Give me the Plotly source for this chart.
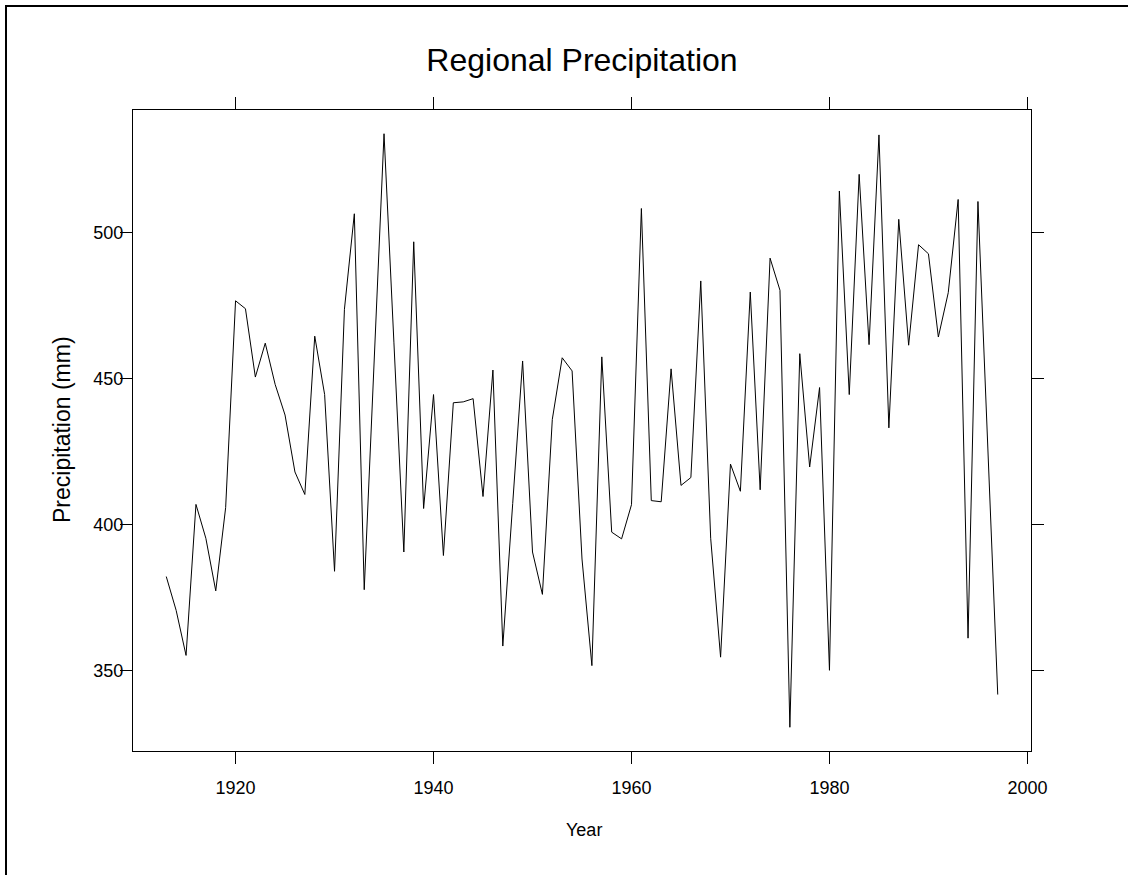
import plotly.graph_objects as go

# Annual precipitation series
years = list(range(1913, 1998))
precip_mm = [
    382.3, 370.7, 355.3, 407.0, 395.4, 377.4, 405.9, 476.7, 474.0, 450.6,
    462.2, 448.1, 437.6, 418.1, 410.4, 464.6, 444.6, 384.1, 473.8, 506.5,
    377.8, 455.9, 533.9, 462.3, 390.7, 496.9, 405.6, 444.6, 389.5, 441.8,
    442.1, 443.2, 409.7, 453.0, 358.5, 407.3, 456.1, 390.7, 376.2, 436.1,
    457.2, 452.7, 388.3, 351.8, 457.5, 397.5, 395.2, 406.9, 508.3, 408.3,
    407.9, 453.4, 413.5, 416.2, 483.5, 395.4, 354.7, 420.8, 411.5, 479.7,
    412.0, 491.3, 480.3, 330.7, 458.6, 419.8, 447.0, 350.2, 514.3, 444.6,
    520.0, 461.7, 533.5, 433.2, 504.6, 461.5, 495.9, 492.8, 464.3, 479.5,
    511.4, 361.2, 510.7, 426.3, 341.9,
]
x_ticks = [1920, 1940, 1960, 1980, 2000]
y_ticks = [350, 400, 450, 500]

W, H = 1128, 875
ML, MR, MT, MB = 133, 97, 110, 124
FONT = "Liberation Sans, Arial, Helvetica, sans-serif"

def px_to_paper_x(px):
    return (px - ML) / (W - ML - MR)

def px_to_paper_y(py):
    return (H - MB - py) / (H - MT - MB)

# Pad the data range by 4% on each side
span_x = years[-1] - years[0]
x_range = [years[0] - 0.04 * span_x, years[-1] + 0.04 * span_x]
lo, hi = min(precip_mm), max(precip_mm)
span_y = hi - lo
y_range = [lo - 0.04 * span_y, hi + 0.04 * span_y]

fig = go.Figure(
    go.Scatter(
        x=years, y=precip_mm, mode="lines",
        line=dict(color="black", width=1),
        hoverinfo="x+y",
    )
)

axis_common = dict(
    showgrid=False, zeroline=False,
    showline=True, linecolor="black", linewidth=1,
    mirror="ticks", ticks="outside", ticklen=12, tickwidth=1,
    tickcolor="black",
    tickfont=dict(family=FONT, size=18, color="black"),
)

fig.update_xaxes(range=x_range, tickvals=x_ticks, ticklabelstandoff=8, **axis_common)
fig.update_yaxes(range=y_range, tickvals=y_ticks, ticklabelstandoff=-7, **axis_common)

# Axis titles
fig.add_annotation(text="Year", xref="paper", yref="paper",
                   x=px_to_paper_x(584), y=px_to_paper_y(830),
                   xanchor="center", yanchor="middle", showarrow=False,
                   font=dict(family=FONT, size=18, color="black"))
fig.add_annotation(text="Precipitation (mm)", xref="paper", yref="paper",
                   x=px_to_paper_x(62), y=px_to_paper_y(430), textangle=-90,
                   xanchor="center", yanchor="middle", showarrow=False,
                   font=dict(family=FONT, size=23, color="black"))

# Outer page frame; only its top and left edges fall inside the page
fig.add_shape(type="rect", xref="paper", yref="paper",
              x0=px_to_paper_x(6), y0=px_to_paper_y(6),
              x1=px_to_paper_x(W + 60), y1=px_to_paper_y(H + 60),
              line=dict(color="black", width=2), fillcolor="rgba(0,0,0,0)",
              layer="below")

fig.update_layout(
    width=W, height=H,
    margin=dict(l=ML, r=MR, t=MT, b=MB),
    paper_bgcolor="white", plot_bgcolor="white",
    showlegend=False,
    title=dict(
        text="Regional Precipitation",
        font=dict(family=FONT, size=32, color="black"),
        x=0.5, xref="paper", xanchor="center",
        y=1 - 60 / H, yref="container", yanchor="middle",
    ),
)

fig.write_html("out.html", config={"displayModeBar": False})
